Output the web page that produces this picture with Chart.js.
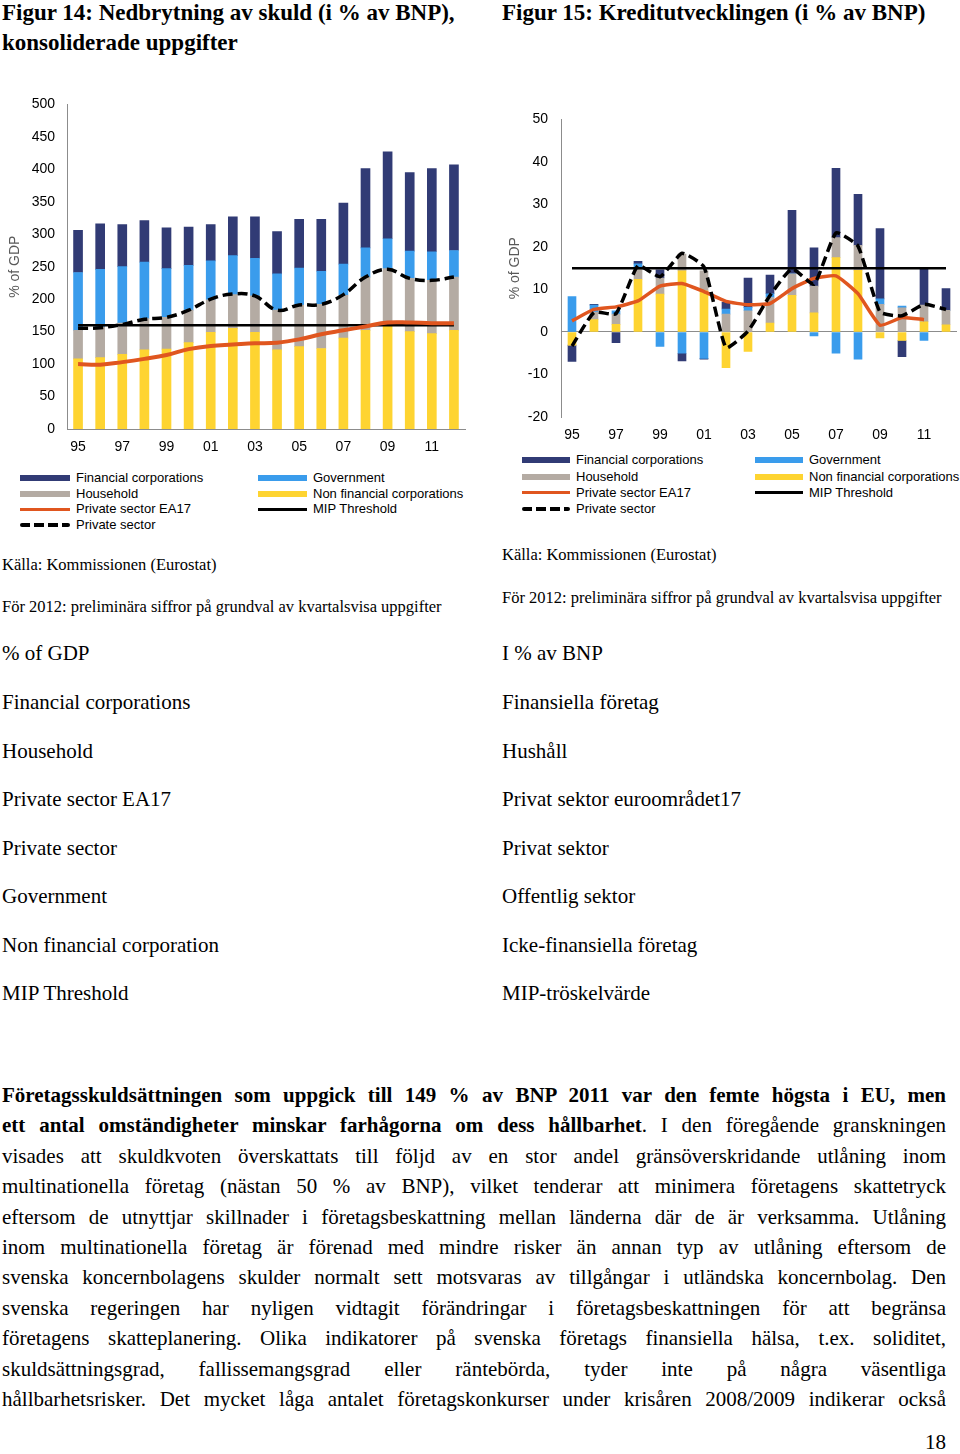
<!DOCTYPE html>
<html><head><meta charset="utf-8">
<script src="https://cdn.jsdelivr.net/npm/chart.js@4.4.0/dist/chart.umd.min.js"></script>
<style>
body{margin:0;width:960px;height:1454px;position:relative;background:#fff;overflow:hidden;font-family:"Liberation Serif","Times New Roman",serif;color:#000}
.abs{position:absolute;white-space:nowrap}
.title{font-weight:bold;font-size:23px;line-height:30px}
.src{font-size:16.5px;line-height:20px}
.word{font-size:21px;line-height:24px}
.leg{position:absolute;font-family:"Liberation Sans",Arial,sans-serif;font-size:13px;line-height:15px;white-space:nowrap;color:#000}
.sw{position:absolute}
.pline{position:absolute;left:2px;font-size:21px;line-height:30.4px;white-space:nowrap;transform-origin:0 0}
canvas{position:absolute}
</style></head><body>

<div class="abs title" style="left:2px;top:-2px">Figur 14: Nedbrytning av skuld (i % av BNP),<br>konsoliderade uppgifter</div>
<div class="abs title" style="left:502px;top:-2px">Figur 15: Kreditutvecklingen (i % av BNP)</div>

<canvas id="c1" width="470" height="376" style="left:0;top:84px"></canvas>
<canvas id="c2" width="465" height="352" style="left:495px;top:98px"></canvas>
<div id="legends"></div>

<div class="abs src" style="left:2px;top:555px">Källa: Kommissionen (Eurostat)</div>
<div class="abs src" style="left:2px;top:597px">För 2012: preliminära siffror på grundval av kvartalsvisa uppgifter</div>
<div class="abs src" style="left:502px;top:545px">Källa: Kommissionen (Eurostat)</div>
<div class="abs src" style="left:502px;top:588px">För 2012: preliminära siffror på grundval av kvartalsvisa uppgifter</div>

<div id="words"></div>
<div id="para"></div>
<div class="abs word" style="right:14px;top:1430px">18</div>

<script>
// ---------- DATA ----------
const years = ['95','96','97','98','99','00','01','02','03','04','05','06','07','08','09','10','11','12'];
const shownTicks = ['95','97','99','01','03','05','07','09','11'];

// Figure 14 (% of GDP, consolidated)
const leftNFC  = [108,110,115,122,123,133,149,155,149,122,127,124,140,152,160,150,147,152];
const leftHH   = [44,47,48,48,49,50,50,52,56,61,64,68,66,82,87,82,82,82];
const leftGov  = [89,89,87,87,75,69,60,60,58,56,57,51,48,45,46,42,44,41];
const leftFC   = [65,70,65,64,63,59,56,60,64,65,75,80,94,122,134,121,128,132];
const leftEA17 = [100,99,103,108,114,123,128,130,132,133,138,146,152,158,164,164,163,163];
const leftPriv = [155,156,161,169,172,183,200,208,205,183,191,192,207,234,246,232,229,234];
const leftMIP  = [160,160,160,160,160,160,160,160,160,160,160,160,160,160,160,160,160,160];

// Figure 15 (credit flow, % of GDP)
const rightNFC  = [-3.1,2.9,1.8,12.4,8.9,14.4,9.7,-8.4,-4.6,2.1,8.6,4.5,17.5,14.5,-1.4,-2.0,2.4,1.7];
const rightHH   = [0,1.8,2.4,2.4,3.8,3.9,4.7,4.2,5.0,6.0,5.1,6.3,4.7,5.9,6.5,5.7,3.9,3.4];
const rightGov  = [8.3,1.6,0.8,1.2,-3.4,-5.0,-6.2,1.2,0.8,0.9,0,-0.9,-5.0,-6.4,1.3,0.4,-2.0,0];
const rightFC   = [-3.8,0.2,-2.5,0.6,1.9,-1.8,-0.2,1.6,6.9,4.4,14.9,9.0,16.3,12.0,16.5,-3.8,8.6,5.1];
const rightEA17 = [2.6,5.3,5.9,7.3,10.8,11.4,9.5,7.2,6.4,6.7,10.2,12.6,13.2,9.0,1.6,3.4,2.9,null];
const rightPriv = [-3.3,4.6,4.3,15.6,13.0,18.5,15.3,-3.7,0.2,8.6,14.9,11.2,23.3,20.2,4.7,3.8,6.5,5.3];
const rightMIP  = [15,15,15,15,15,15,15,15,15,15,15,15,15,15,15,15,15,15];

const leftTicks  = [0,50,100,150,200,250,300,350,400,450,500];
const rightTicks = [-20,-10,0,10,20,30,40,50];

const wordsEN = ['% of GDP','Financial corporations','Household','Private sector EA17','Private sector','Government','Non financial corporation','MIP Threshold'];
const wordsSV = ['I % av BNP','Finansiella företag','Hushåll','Privat sektor euroområdet17','Privat sektor','Offentlig sektor','Icke-finansiella företag','MIP-tröskelvärde'];

const paraLines = [
  [['b','Företagsskuldsättningen som uppgick till 149 % av BNP 2011 var den femte högsta i EU, men']],
  [['b','ett antal omständigheter minskar farhågorna om dess hållbarhet'],['n','. I den föregående granskningen']],
  [['n','visades att skuldkvoten överskattats till följd av en stor andel gränsöverskridande utlåning inom']],
  [['n','multinationella företag (nästan 50 % av BNP), vilket tenderar att minimera företagens skattetryck']],
  [['n','eftersom de utnyttjar skillnader i företagsbeskattning mellan länderna där de är verksamma. Utlåning']],
  [['n','inom multinationella företag är förenad med mindre risker än annan typ av utlåning eftersom de']],
  [['n','svenska koncernbolagens skulder normalt sett motsvaras av tillgångar i utländska koncernbolag. Den']],
  [['n','svenska regeringen har nyligen vidtagit förändringar i företagsbeskattningen för att begränsa']],
  [['n','företagens skatteplanering. Olika indikatorer på svenska företags finansiella hälsa, t.ex. soliditet,']],
  [['n','skuldsättningsgrad, fallissemangsgrad eller räntebörda, tyder inte på några väsentliga']],
  [['n','hållbarhetsrisker. Det mycket låga antalet företagskonkurser under krisåren 2008/2009 indikerar också']]
];

// ---------- STYLE ----------
const NAVY='#313B75', BLUE='#3A9CEC', GRAY='#B4ABA3', YELLOW='#FED431', ORANGE='#E0561F';
const AX='#8C8C8C';
const FONT={family:'"Liberation Sans", Arial, sans-serif', size:14};

function makeDatasets(nfc,hh,gov,fc,ea17,priv,mip,barW,tension,ow){
  return [
    {type:'line',label:'Private sector',data:priv,borderColor:'#000',borderWidth:3.5,borderDash:[10,5],pointRadius:0,tension:tension,fill:false,stack:'l2',order:1,spanGaps:false},
    {type:'line',label:'Private sector EA17',data:ea17,borderColor:ORANGE,borderWidth:ow,pointRadius:0,tension:tension,fill:false,stack:'l1',order:2},
    {type:'line',label:'MIP Threshold',data:mip,borderColor:'#000',borderWidth:2.5,pointRadius:0,fill:false,stack:'l3',order:3},
    {type:'bar',label:'Non financial corporations',data:nfc,backgroundColor:YELLOW,barThickness:barW,stack:'b',order:10},
    {type:'bar',label:'Household',data:hh,backgroundColor:GRAY,barThickness:barW,stack:'b',order:10},
    {type:'bar',label:'Government',data:gov,backgroundColor:BLUE,barThickness:barW,stack:'b',order:10},
    {type:'bar',label:'Financial corporations',data:fc,backgroundColor:NAVY,barThickness:barW,stack:'b',order:10}
  ];
}

function opts(cfg){
  return {
    responsive:false, animation:false, devicePixelRatio:1,
    layout:{padding:{top:cfg.padTop,right:cfg.padRight,left:0,bottom:0}},
    plugins:{legend:{display:false},tooltip:{enabled:false}},
    scales:{
      x:{stacked:true,offset:true,
         grid:{display:false,drawTicks:false},
         border:{display:cfg.xBorder,color:AX,width:1},
         ticks:{autoSkip:false,maxRotation:0,color:'#000',font:FONT,padding:cfg.xPad,
                callback:function(v,i){const l=years[i];return shownTicks.includes(l)?l:'';}},
         afterFit:s=>{s.height=cfg.xH;}},
      y:{stacked:true,min:cfg.ticks[0],max:cfg.ticks[cfg.ticks.length-1],
         afterBuildTicks:s=>{s.ticks=cfg.ticks.map(v=>({value:v}));},
         grid:{display:cfg.zeroGrid,drawTicks:false,lineWidth:1,
               color:c=>(c.tick&&c.tick.value===0)?AX:'rgba(0,0,0,0)'},
         border:{display:true,color:AX,width:1},
         ticks:{color:'#000',font:FONT,padding:cfg.yPad},
         title:{display:true,text:'% of GDP',color:'#595959',font:FONT,padding:{top:cfg.tPad,bottom:0}},
         afterFit:s=>{s.width=cfg.yW;}}
    }
  };
}

const c1 = new Chart(document.getElementById('c1'),{
  data:{labels:years,datasets:makeDatasets(leftNFC,leftHH,leftGov,leftFC,leftEA17,leftPriv,leftMIP,9,0.4,4)},
  options:opts({padTop:6,padRight:5,xBorder:true,xPad:10,xH:31,ticks:leftTicks,zeroGrid:false,yPad:12,tPad:6.5,yW:67})
});
const c2 = new Chart(document.getElementById('c2'),{
  data:{labels:years,datasets:makeDatasets(rightNFC,rightHH,rightGov,rightFC,rightEA17,rightPriv,rightMIP,8,0.15,3.5)},
  options:opts({padTop:16,padRight:3,xBorder:false,xPad:10,xH:33,ticks:rightTicks,zeroGrid:true,yPad:13,tPad:11.5,yW:66})
});

// ---------- LEGENDS (built from chart datasets) ----------
function buildLegend(chart, cols, rows){
  const host=document.getElementById('legends');
  cols.forEach(col=>{
    col.names.forEach((name,i)=>{
      const ds=chart.data.datasets.find(d=>d.label===name);
      const cy=rows[i];
      const sw=document.createElement('div'); sw.className='sw';
      let h;
      if(ds.type==='bar'){h=6; sw.style.background=ds.backgroundColor;}
      else if(ds.borderDash){h=4; sw.style.background='repeating-linear-gradient(90deg,#000 0 10px,transparent 10px 14px)';sw.style.borderRadius='2px';}
      else {h=3; sw.style.background=ds.borderColor;}
      sw.style.left=col.sx+'px'; sw.style.width=(col.tx-col.sx-6)+'px'; sw.style.height=h+'px'; sw.style.top=(cy-h/2)+'px';
      host.appendChild(sw);
      const t=document.createElement('div'); t.className='leg'; t.textContent=name;
      t.style.left=col.tx+'px'; t.style.top=(cy-8)+'px';
      host.appendChild(t);
    });
  });
}
buildLegend(c1,[{sx:20,tx:76,names:['Financial corporations','Household','Private sector EA17','Private sector']},
                {sx:258,tx:313,names:['Government','Non financial corporations','MIP Threshold']}],[478,493.5,509,524.5]);
buildLegend(c2,[{sx:522,tx:576,names:['Financial corporations','Household','Private sector EA17','Private sector']},
                {sx:755,tx:809,names:['Government','Non financial corporations','MIP Threshold']}],[460,476.5,492.5,509]);

// ---------- WORD LISTS ----------
const wHost=document.getElementById('words');
const wCenters=[653,702,751,799,848,896,945,993];
function addWords(list,x){list.forEach((w,i)=>{const d=document.createElement('div');d.className='abs word';d.textContent=w;d.style.left=x+'px';d.style.top=(wCenters[i]-12)+'px';wHost.appendChild(d);});}
addWords(wordsEN,2); addWords(wordsSV,502);

// ---------- PARAGRAPH ----------
const pHost=document.getElementById('para');
const lineEls=[];
paraLines.forEach((segs,i)=>{
  const d=document.createElement('div'); d.className='pline'; d.style.top=(1080+i*30.4)+'px';
  const inner=document.createElement('span');
  segs.forEach(s=>{const sp=document.createElement('span');sp.textContent=s[1];if(s[0]==='b')sp.style.fontWeight='bold';inner.appendChild(sp);});
  d.appendChild(inner); pHost.appendChild(d); lineEls.push([d,inner,segs]);
});
function justify(){
  const target=944;
  lineEls.forEach(([d,inner,segs])=>{
    d.style.wordSpacing='0px'; d.style.transform='';
    const w=inner.getBoundingClientRect().width;
    const spaces=segs.map(s=>s[1]).join('').split(' ').length-1;
    if(w<target){d.style.wordSpacing=((target-w)/spaces)+'px';}
    else {d.style.transform='scaleX('+(target/w)+')';}
  });
}
justify();
if(document.fonts&&document.fonts.ready){document.fonts.ready.then(justify);}
</script>
</body></html>
